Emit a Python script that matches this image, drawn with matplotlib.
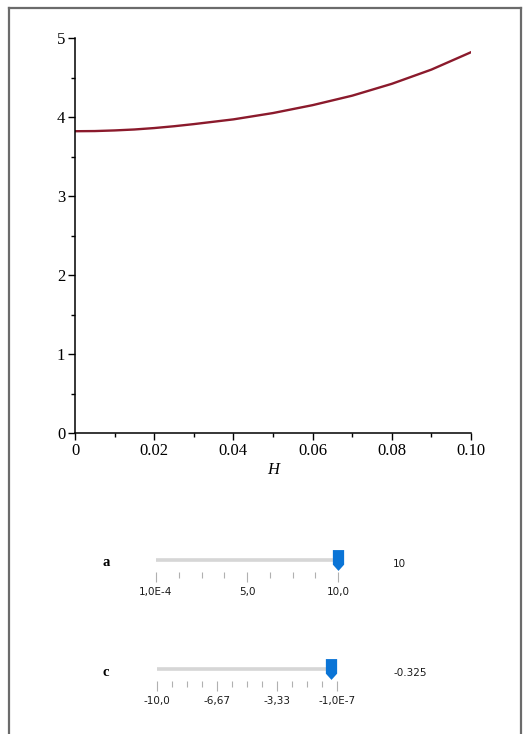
import matplotlib
matplotlib.use('Agg')
import matplotlib.pyplot as plt
from matplotlib.lines import Line2D
from matplotlib.path import Path
import numpy as np

# curve values read along H
H = [0.0, 0.005, 0.01, 0.015, 0.02, 0.025, 0.03, 0.035, 0.04, 0.045, 0.05,
     0.055, 0.06, 0.065, 0.07, 0.075, 0.08, 0.085, 0.09, 0.095, 0.10]
Y = [3.82, 3.822, 3.83, 3.842, 3.86, 3.883, 3.91, 3.94, 3.97, 4.01, 4.05,
     4.10, 4.15, 4.21, 4.27, 4.345, 4.42, 4.51, 4.60, 4.71, 4.82]

x_ticks = [0, 0.02, 0.04, 0.06, 0.08, 0.10]
x_tick_labels = ['0', '0.02', '0.04', '0.06', '0.08', '0.10']
y_ticks = [0, 1, 2, 3, 4, 5]

# explore sliders: name, range, current value, tick labels
slider_names = ['a', 'c']
slider_min = [1.0e-4, -10.0]
slider_max = [10.0, -1.0e-7]
slider_value = [10, -0.325]
slider_value_text = ['10', '-0.325']
slider_nticks = [9, 13]
slider_major_labels = [['1,0E-4', '5,0', '10,0'],
                       ['-10,0', '-6,67', '-3,33', '-1,0E-7']]

W, Hpx = 526, 734
fig = plt.figure(figsize=(W / 100, Hpx / 100), dpi=100)


def fx(x):
    return x / W


def fy(y):
    return 1 - y / Hpx


# worksheet frame
frame_col = '#6b6b6b'
fig.add_artist(Line2D([fx(9.5), fx(9.5)], [fy(7.5), 0], transform=fig.transFigure, color=frame_col, lw=1.6))
fig.add_artist(Line2D([fx(9.5), fx(521)], [fy(7.5), fy(7.5)], transform=fig.transFigure, color=frame_col, lw=1.6))
fig.add_artist(Line2D([fx(521), fx(521)], [fy(7.5), 0], transform=fig.transFigure, color=frame_col, lw=1.6))

serif = 'Liberation Serif'
ax = fig.add_axes([fx(75), fy(433), fx(471 - 75), (433 - 38) / Hpx])
ax.plot(H, Y, color='#8b1a2c', lw=1.7)
ax.set_xlim(0, 0.10)
ax.set_ylim(0, 5)
ax.set_xticks(x_ticks)
ax.set_xticklabels(x_tick_labels)
ax.set_xticks(np.arange(0.01, 0.1, 0.02), minor=True)
ax.set_yticks(y_ticks)
ax.set_yticks(np.arange(0.5, 5, 1.0), minor=True)
for s in ['top', 'right']:
    ax.spines[s].set_visible(False)
for s in ['left', 'bottom']:
    ax.spines[s].set_linewidth(1.1)
ax.tick_params(which='major', direction='out', length=5, width=1, labelsize=12, pad=2)
ax.tick_params(which='minor', direction='out', length=3, width=1)
for lab in ax.get_xticklabels() + ax.get_yticklabels():
    lab.set_family(serif)
ax.set_xlabel('H', family=serif, style='italic', fontsize=12, labelpad=2)

# slider handle: flat top, pointed bottom
handle = Path([(-0.27, 0.5), (0.27, 0.5), (0.27, -0.2), (0.0, -0.5), (-0.27, -0.2), (-0.27, 0.5)],
              [Path.MOVETO, Path.LINETO, Path.LINETO, Path.LINETO, Path.LINETO, Path.CLOSEPOLY])

slider_left = [156, 157]
slider_right = [338, 337]
slider_base = [572, 681]
slider_value_x = [399, 410]
sans = 'DejaVu Sans'

for i in range(len(slider_names)):
    base = slider_base[i]
    sax = fig.add_axes([fx(slider_left[i]), fy(base), fx(slider_right[i] - slider_left[i]), 24 / Hpx])
    sax.set_xlim(slider_min[i], slider_max[i])
    sax.set_ylim(0, 1)
    for s in sax.spines.values():
        s.set_visible(False)
    sax.patch.set_alpha(0)
    ticks = np.linspace(slider_min[i], slider_max[i], slider_nticks[i])
    step = (slider_nticks[i] - 1) // (len(slider_major_labels[i]) - 1)
    major = ticks[::step]
    minor = [t for k, t in enumerate(ticks) if k % step]
    sax.set_xticks(major)
    sax.set_xticklabels(slider_major_labels[i])
    sax.set_xticks(minor, minor=True)
    sax.set_yticks([])
    sax.tick_params(which='major', direction='out', length=7, width=0.8, color='#b0b0b0',
                    labelsize=7.5, pad=4, labelcolor='#1a1a1a')
    sax.tick_params(which='minor', direction='out', length=4, width=0.8, color='#b0b0b0')
    for lab in sax.get_xticklabels():
        lab.set_family(sans)
    # track up to the handle
    sax.plot([slider_min[i], slider_value[i]], [0.5, 0.5], color='#d6d6d6', lw=2.6,
             solid_capstyle='butt', clip_on=False)
    sax.plot([slider_value[i]], [0.5], marker=handle, markersize=15, color='#0a74d6',
             markeredgewidth=0, clip_on=False, linestyle='none')
    fig.text(fx(106), fy(base - 9), slider_names[i], family=serif, weight='bold', fontsize=10.5,
             ha='center', va='center')
    fig.text(fx(slider_value_x[i]), fy(base - 8), slider_value_text[i], family=sans, fontsize=7.5,
             ha='center', va='center', color='#1a1a1a')

fig.savefig('out.png', dpi=100)
